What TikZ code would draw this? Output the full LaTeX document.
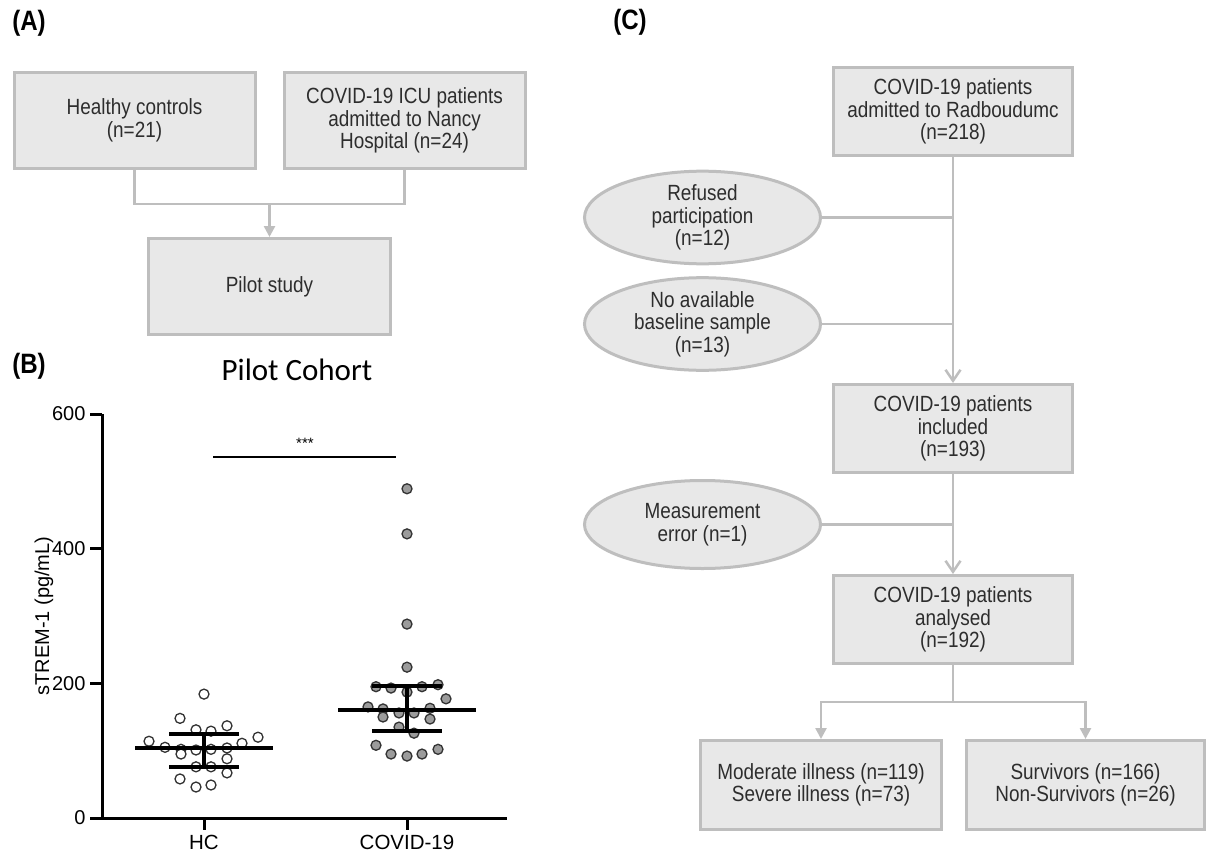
\documentclass[tikz,border=0pt]{standalone}
\usepackage{fontspec}
\setmainfont{Liberation Sans}
\newfontfamily\narrowfont[FakeStretch=0.86]{Liberation Sans}
\newfontfamily\titlefont{Carlito}
\usetikzlibrary{arrows.meta}
\usetikzlibrary{shapes.geometric}
\usetikzlibrary{positioning}
\definecolor{boxfill}{RGB}{232,232,232}
\definecolor{boxline}{RGB}{190,190,190}
\definecolor{boxtext}{RGB}{45,45,45}
\definecolor{dotfill}{RGB}{155,155,155}
\tikzset{
  stage/.style={rectangle, draw=boxline, fill=boxfill, line width=3pt, text=boxtext, align=center,
    minimum width=239pt, minimum height=88pt, inner sep=0pt, font=\narrowfont\fontsize{22}{22.5}\selectfont},
  excluded/.style={ellipse, draw=boxline, fill=boxfill, line width=3pt, text=boxtext, align=center,
    minimum width=236pt, minimum height=88pt, inner sep=0pt, font=\narrowfont\fontsize{22}{22.5}\selectfont},
  panel/.style={font=\narrowfont\fontsize{28}{28}\selectfont\bfseries},
  link/.style={draw=boxline, line width=2.5pt},
  arrow/.style={link, -{Triangle[length=11pt, width=11pt]}},
  openarrow/.style={link, -{Straight Barb[length=11pt, width=15pt]}},
  axis/.style={draw, line width=3pt},
  bar/.style={draw, line width=4pt},
  hcdot/.style={draw=black!80, line width=1.3pt, fill=white},
  covdot/.style={draw=black!80, line width=1.3pt, fill=dotfill},
  ticklabel/.style={font=\fontsize{20}{20}\selectfont}
  }

\begin{document}
\begin{tikzpicture}[x=1pt, y=-1pt, declare function={yv(\v)=818-0.6733*\v;}]
	% Frame
	\fill[white] (0,0) rectangle (1206,853);
	\useasboundingbox (0,0) rectangle (1206,853);
	\node[panel] (labelA) at (29,23) {(A)};
	\node[panel] (labelB) at (29,366) {(B)};
	\node[panel] (labelC) at (630,22) {(C)};

	% Nodes (A)
	\node[stage, minimum width=241pt, minimum height=96pt] (healthy) at (134.5,120.5) {Healthy controls\\(n=21)};
	\node[stage, minimum width=241pt, minimum height=96pt, right = 26pt of healthy] (nancy) {COVID-19 ICU patients\\admitted to Nancy\\Hospital (n=24)};
	\node[stage, minimum width=242pt, minimum height=96pt] (pilot) at (269.5,286.5) {Pilot study};
	\coordinate (join) at (269.5,204);

	% Arrows (A)
	\draw [link] (healthy.south) |- (join) -| (nancy.south);
	\draw [arrow] (join) -- (pilot.north);

	% Plot (B)
	\node[font=\titlefont\fontsize{31}{31}\selectfont] (title) at (297,370) {Pilot Cohort};
	\draw [axis] (102,{yv(600)}) -- (102,{yv(0)}) -- (507,{yv(0)});
	\foreach \v in {0,200,400,600} {
		\draw [axis] (90,{yv(\v)}) -- (102,{yv(\v)});
		\node[ticklabel, anchor=east] (tick\v) at (89,{yv(\v)}) {\v};
	}
	\draw [axis] (204,{yv(0)}) -- ++(0,12);
	\draw [axis] (407,{yv(0)}) -- ++(0,12);
	\node[ticklabel, font=\fontsize{20.5}{20.5}\selectfont] (hclabel) at (204,842) {HC};
	\node[ticklabel, font=\fontsize{20.5}{20.5}\selectfont] (covidlabel) at (407,842) {COVID-19};
	\node[ticklabel, rotate=90, anchor=base] (ylabel) at (49,616) {sTREM-1 (pg/mL)};
	% significance
	\draw [line width=2pt] (213,457) -- (396,457);
	\node[font=\fontsize{15}{15}\selectfont] (stars) at (305,443) {***};
	% healthy controls
	\foreach \x/\v in {204/184, 180/148, 196/131, 211/129, 227/137, 149/114, 258/120,
		165/105, 181/102, 196/101, 211/102, 227/104, 242/111, 181/95, 227/88,
		196/76, 211/76, 227/67, 180/58, 196/46, 211/49}
		\draw [hcdot] (\x,{yv(\v)}) circle (5);
	\draw [bar] (135,{yv(104)}) -- (273,{yv(104)});
	\draw [bar] (169,{yv(125)}) -- (239,{yv(125)});
	\draw [bar] (169,{yv(76)}) -- (239,{yv(76)});
	\draw [bar] (204,{yv(125)}) -- (204,{yv(76)});
	% covid-19
	\foreach \x/\v in {407/489, 407/422, 407/288, 407/224, 376/195, 391/193, 422/195, 438/198,
		407/187, 446/177, 368/165, 383/162, 430/163, 383/150, 399/156, 414/156, 430/147,
		399/135, 414/126, 376/108, 438/102, 391/95, 407/92, 422/95}
		\draw [covdot] (\x,{yv(\v)}) circle (5);
	\draw [bar] (338,{yv(160)}) -- (476,{yv(160)});
	\draw [bar] (372,{yv(196)}) -- (442,{yv(196)});
	\draw [bar] (372,{yv(129)}) -- (442,{yv(129)});
	\draw [bar] (407,{yv(196)}) -- (407,{yv(129)});

	% Nodes (C)
	\node[stage] (admitted) at (953,111.5) {COVID-19 patients\\admitted to Radboudumc\\(n=218)};
	\node[stage, below = 226pt of admitted] (included) {COVID-19 patients\\included\\(n=193)};
	\node[stage, below = 100pt of included] (analysed) {COVID-19 patients\\analysed\\(n=192)};
	\node[excluded] (refused) at (702.5,217.5) {Refused\\participation\\(n=12)};
	\node[excluded] (nosample) at (702.5,324) {No available\\baseline sample\\(n=13)};
	\node[excluded] (error) at (702.5,524.5) {Measurement\\error (n=1)};
	\node[stage, minimum width=241pt, minimum height=89pt] (severity) at (821,785) {Moderate illness (n=119)\\Severe illness (n=73)};
	\node[stage, minimum width=238pt, minimum height=89pt] (survival) at (1085.5,785) {Survivors (n=166)\\Non-Survivors (n=26)};
	\coordinate (split) at (953,702);

	% Arrows (C)
	\draw [openarrow] (admitted) -- (included);
	\draw [link] (refused.east) -- (refused.east -| admitted.south);
	\draw [link] (nosample.east) -- (nosample.east -| admitted.south);
	\draw [openarrow] (included) -- (analysed);
	\draw [link] (error.east) -- (error.east -| included.south);
	% Arrows to outcomes
	\draw [link] (analysed.south) -- (split);
	\draw [arrow] (split) -| (severity.north);
	\draw [arrow] (split) -| (survival.north);
\end{tikzpicture}
\end{document}
